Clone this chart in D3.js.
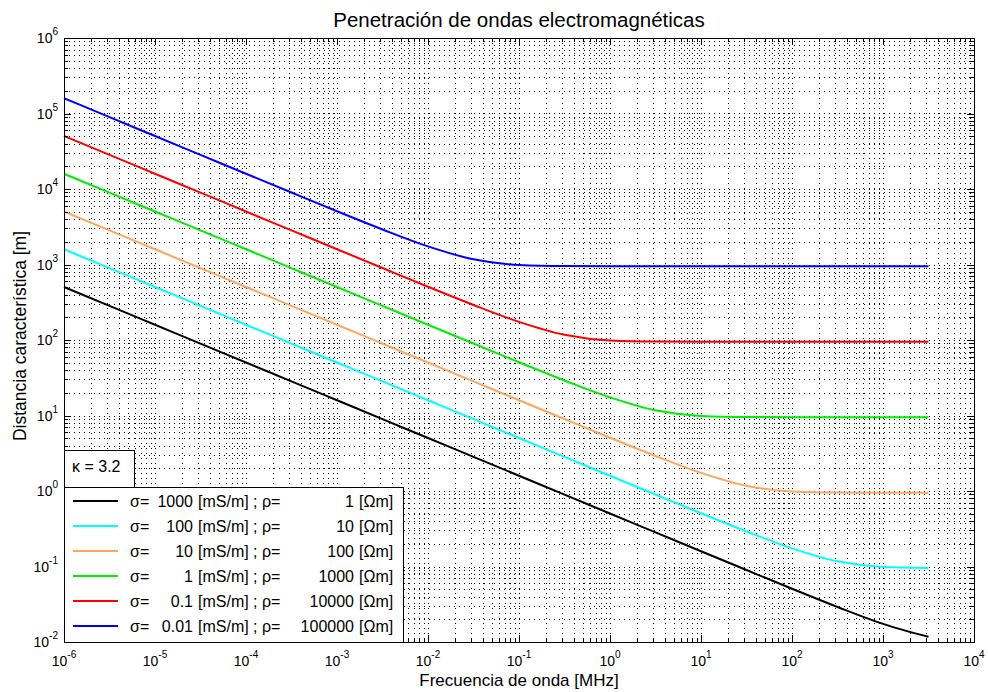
<!DOCTYPE html>
<html>
<head>
<meta charset="utf-8">
<script src="https://cdn.jsdelivr.net/npm/d3@7"></script>
<style>
  body { margin: 0; background: #fff; }
  text { font-family: "Liberation Sans", Arial, sans-serif; fill: #000; }
</style>
</head>
<body>
<svg id="chart" width="988" height="692"></svg>
<script>
// frequency samples [MHz], half decades from 1e-6 to 10^3.5
const freqs = [1e-6, 3.162e-6, 1e-5, 3.162e-5, 1e-4, 3.162e-4, 1e-3, 3.162e-3, 1e-2, 3.162e-2,
               0.1, 0.3162, 1, 3.162, 10, 31.62, 100, 316.2, 1000, 3162];

// characteristic distance [m], one array per conductivity
const depth1000 = [503.3, 283.1, 159.2, 89.54, 50.33, 28.31, 15.92, 8.954, 5.033, 2.832,
                   1.592, 0.8954, 0.5033, 0.2832, 0.1593, 0.08979, 0.05078, 0.02912, 0.01739, 0.01171];
const depth100  = [1592, 895.4, 503.3, 283.2, 159.2, 89.54, 50.33, 28.32, 15.92, 8.954,
                   5.033, 2.832, 1.593, 0.8979, 0.5078, 0.2912, 0.1739, 0.1171, 0.09839, 0.09534];
const depth10   = [5033, 2831, 1592, 895.4, 503.3, 283.2, 159.2, 89.54, 50.33, 28.32,
                   15.93, 8.979, 5.078, 2.912, 1.739, 1.171, 0.9839, 0.9534, 0.95, 0.9497];
const depth1    = [15920, 8954, 5033, 2832, 1592, 895.4, 503.3, 283.2, 159.3, 89.79,
                   50.78, 29.12, 17.39, 11.71, 9.839, 9.534, 9.5, 9.497, 9.496, 9.496];
const depth01   = [50330, 28320, 15920, 8954, 5033, 2832, 1593, 897.9, 507.8, 291.2,
                   173.9, 117.1, 98.39, 95.34, 95.0, 94.97, 94.96, 94.96, 94.96, 94.96];
const depth001  = [159200, 89540, 50330, 28320, 15930, 8979, 5078, 2912, 1739, 1171,
                   983.9, 953.4, 950.0, 949.7, 949.6, 949.6, 949.6, 949.6, 949.6, 949.6];

const sigmaLabels = ["1000", "100", "10", "1", "0.1", "0.01"];
const rhoLabels = ["1", "10", "100", "1000", "10000", "100000"];
const colors = ["#000000", "#00ffff", "#ffa65e", "#00ee00", "#ff0000", "#0000ff"];
const xExponents = [-6, -5, -4, -3, -2, -1, 0, 1, 2, 3, 4];
const yExponents = [-2, -1, 0, 1, 2, 3, 4, 5, 6];

const series = [depth1000, depth100, depth10, depth1, depth01, depth001];

const svg = d3.select("#chart");
const plotL = 64, plotR = 974, plotT = 38, plotB = 642;

const x = d3.scaleLog().domain([1e-6, 1e4]).range([plotL, plotR]);
const y = d3.scaleLog().domain([1e-2, 1e6]).range([plotB, plotT]);

// minor values 2..9 in each decade
const minorOf = exps => {
  const out = [];
  exps.slice(0, -1).forEach(e => {
    for (let m = 2; m <= 9; m++) out.push(m * Math.pow(10, e));
  });
  return out;
};
const xMajor = xExponents.map(e => Math.pow(10, e));
const yMajor = yExponents.map(e => Math.pow(10, e));
const xMinor = minorOf(xExponents);
const yMinor = minorOf(yExponents);

// dotted grid
const grid = svg.append("g").attr("stroke", "#000").attr("stroke-width", 1)
  .attr("stroke-dasharray", "1,4").attr("shape-rendering", "crispEdges");
grid.selectAll(".gx").data(xMajor.concat(xMinor)).join("line")
  .attr("class", "gx")
  .attr("x1", d => Math.round(x(d)) + 0.5).attr("x2", d => Math.round(x(d)) + 0.5)
  .attr("y1", plotT).attr("y2", plotB);
grid.selectAll(".gy").data(yMajor.concat(yMinor)).join("line")
  .attr("class", "gy")
  .attr("y1", d => Math.round(y(d)) + 0.5).attr("y2", d => Math.round(y(d)) + 0.5)
  .attr("x1", plotL).attr("x2", plotR);

// curves
const line = d3.line()
  .x((d, i) => x(freqs[i]))
  .y(d => y(d))
  .curve(d3.curveMonotoneX);

svg.append("g").selectAll("path").data(series).join("path")
  .attr("d", d => line(d))
  .attr("fill", "none")
  .attr("stroke", (d, i) => colors[i])
  .attr("stroke-width", 2);

// axes: ticks pointing inward on all four sides
const addAxis = (axis, tx, ty) => {
  const g = svg.append("g").attr("transform", `translate(${tx},${ty})`).call(axis);
  g.select(".domain").remove();
  g.selectAll("text").remove();
  g.selectAll("line").attr("stroke", "#000").attr("shape-rendering", "crispEdges");
  return g;
};
[[xMajor, 7], [xMinor, 4]].forEach(([vals, len]) => {
  addAxis(d3.axisBottom(x).tickValues(vals).tickSize(-len).tickFormat(""), 0, plotB);
  addAxis(d3.axisTop(x).tickValues(vals).tickSize(-len).tickFormat(""), 0, plotT);
});
[[yMajor, 7], [yMinor, 4]].forEach(([vals, len]) => {
  addAxis(d3.axisLeft(y).tickValues(vals).tickSize(-len).tickFormat(""), plotL, 0);
  addAxis(d3.axisRight(y).tickValues(vals).tickSize(-len).tickFormat(""), plotR, 0);
});

svg.append("rect")
  .attr("x", plotL + 0.5).attr("y", plotT + 0.5)
  .attr("width", plotR - plotL).attr("height", plotB - plotT)
  .attr("fill", "none").attr("stroke", "#000").attr("stroke-width", 1);

// tick labels 10^n
const xl = svg.append("g").selectAll("text").data(xExponents).join("text")
  .attr("x", d => x(Math.pow(10, d)))
  .attr("y", 666)
  .attr("text-anchor", "middle")
  .style("font-size", "14px");
xl.append("tspan").text("10");
xl.append("tspan").attr("dy", -8).style("font-size", "10px").text(d => d);

const yl = svg.append("g").selectAll("text").data(yExponents).join("text")
  .attr("x", 58)
  .attr("y", d => y(Math.pow(10, d)) + 5)
  .attr("text-anchor", "end")
  .style("font-size", "14px");
yl.append("tspan").text("10");
yl.append("tspan").attr("dy", -8).style("font-size", "10px").text(d => d);

// titles
svg.append("text").attr("x", (plotL + plotR) / 2).attr("y", 27)
  .attr("text-anchor", "middle").style("font-size", "20.5px")
  .text("Penetración de ondas electromagnéticas");
svg.append("text").attr("x", (plotL + plotR) / 2).attr("y", 686)
  .attr("text-anchor", "middle").style("font-size", "17px")
  .text("Frecuencia de onda [MHz]");
svg.append("text").attr("transform", "translate(26,336) rotate(-90)")
  .attr("text-anchor", "middle").style("font-size", "17.5px")
  .text("Distancia característica [m]");

// kappa box
svg.append("rect").attr("x", plotL + 0.5).attr("y", 450.5).attr("width", 70).attr("height", 37)
  .attr("fill", "#fff").attr("stroke", "#000");
svg.append("text").attr("x", 72).attr("y", 472).style("font-size", "16px").text("κ = 3.2");

// legend
svg.append("rect").attr("x", plotL + 0.5).attr("y", 487.5).attr("width", 339).attr("height", plotB - 487)
  .attr("fill", "#fff").attr("stroke", "#000");
const ly = d3.scalePoint().domain(d3.range(series.length)).range([501, 626]);
const rows = svg.append("g").selectAll("g").data(series).join("g")
  .attr("transform", (d, i) => `translate(0,${ly(i)})`);
rows.append("line").attr("x1", 73).attr("x2", 118)
  .attr("stroke", (d, i) => colors[i]).attr("stroke-width", 2);
rows.append("text").attr("x", 130).attr("y", 6).style("font-size", "16px").text("σ=");
rows.append("text").attr("x", 193).attr("y", 6).attr("text-anchor", "end")
  .style("font-size", "16px").text((d, i) => sigmaLabels[i]);
rows.append("text").attr("x", 198).attr("y", 6).style("font-size", "16px").text("[mS/m] ; ρ=");
rows.append("text").attr("x", 354).attr("y", 6).attr("text-anchor", "end")
  .style("font-size", "16px").text((d, i) => rhoLabels[i]);
rows.append("text").attr("x", 359).attr("y", 6).style("font-size", "16px").text("[Ωm]");
</script>
</body>
</html>
